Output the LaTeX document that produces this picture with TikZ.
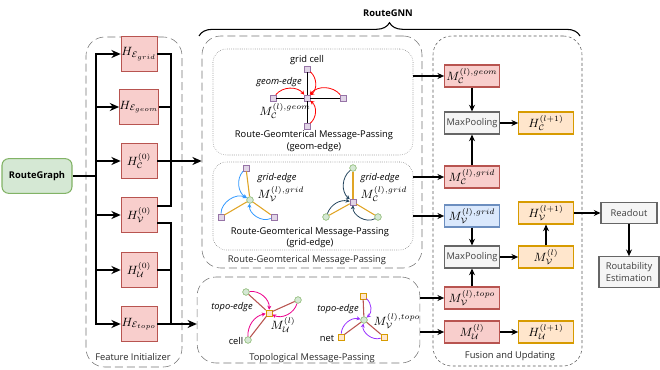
\documentclass[tikz,border=0pt]{standalone}
\usepackage{fontspec}
\setsansfont{Open Sans}
\usetikzlibrary{arrows.meta, positioning, calc, decorations.pathreplacing}

\definecolor{redfill}{HTML}{F8CECC}
\definecolor{redline}{HTML}{B85450}
\definecolor{grnfill}{HTML}{D5E8D4}
\definecolor{grnline}{HTML}{82B366}
\definecolor{gryfill}{HTML}{F5F5F5}
\definecolor{gryline}{HTML}{666666}
\definecolor{orgfill}{HTML}{FFE6CC}
\definecolor{orgline}{HTML}{D79B00}
\definecolor{blufill}{HTML}{DAE8FC}
\definecolor{bluline}{HTML}{6C8EBF}
\definecolor{prpfill}{HTML}{E1D5E7}
\definecolor{prpline}{HTML}{9673A6}
\definecolor{gridarr}{HTML}{3399FF}
\definecolor{darkarr}{HTML}{23445D}
\definecolor{topoarr}{HTML}{9933FF}
\definecolor{goldln}{HTML}{E0A526}

\newcommand{\lblfont}{\sffamily\fontsize{7}{8.5}\selectfont}

\begin{document}
\begin{tikzpicture}[
  x=0.75pt, y=-0.75pt,
  font=\lblfont,
  mathf/.style={font=\fontsize{9}{10}\selectfont},
  itlbl/.style={font=\lblfont\itshape},
  hbox/.style={rectangle, fill=redfill, draw=redline, minimum width=27pt, minimum height=26pt, inner sep=0pt, mathf},
  mbox/.style={rectangle, minimum width=41pt, minimum height=16.5pt, inner sep=0pt, line width=0.8pt, mathf},
  redbox/.style={mbox, fill=redfill, draw=redline},
  orgbox/.style={mbox, fill=orgfill, draw=orgline},
  blubox/.style={mbox, fill=blufill, draw=bluline},
  poolbox/.style={mbox, fill=gryfill, draw=gryline, text=black!75, font=\lblfont},
  grpbox/.style={draw=black!55, dash pattern=on 6pt off 3pt, rounded corners=14pt, inner sep=0pt},
  subbox/.style={draw=black!55, densely dotted, rounded corners=10pt, inner sep=0pt},
  fusebox/.style={draw=black!65, dash pattern=on 2.2pt off 1.8pt, rounded corners=14pt, inner sep=0pt},
  sq/.style={rectangle, minimum size=4.5pt, inner sep=0pt, fill=prpfill, draw=prpline},
  osq/.style={rectangle, minimum size=4.5pt, inner sep=0pt, fill=orgfill, draw=orgline},
  dot/.style={circle, minimum size=5pt, inner sep=0pt, fill=grnfill, draw=grnline},
  bus/.style={line width=1.5pt},
  busarr/.style={bus, -{Stealth[length=7pt, width=6pt]}},
  arr/.style={line width=0.8pt, -{Stealth[length=5pt, width=4.5pt]}},
  msg/.style={line width=0.6pt, -{Stealth[length=3pt, width=3pt]}},
  grplbl/.style={text=black!85}
]
\useasboundingbox (0,0) rectangle (660,370);

% containers
\node[grpbox, minimum width=72pt, minimum height=247.5pt] (init) at (134,202) {};
\node[grpbox, minimum width=165pt, minimum height=174pt] (geo) at (312,152) {};
\node[subbox, minimum width=150pt, minimum height=79.5pt] (geomin) at (313,102) {};
\node[subbox, minimum width=150pt, minimum height=66pt] (gridin) at (313,206) {};
\node[grpbox, minimum width=167pt, minimum height=64.5pt] (topo) at (308.5,320) {};
\node[fusebox, minimum width=111.75pt, minimum height=247.5pt] (fuse) at (507.5,201) {};

\node[grplbl] at (133,357) {Feature Initializer};
\node[grplbl] at (307,260) {Route-Geomterical Message-Passing};
\node[grplbl] at (312,358) {Topological Message-Passing};
\node[grplbl] at (510,356) {Fusion and Updating};

% RouteGNN brace
\coordinate (braceL) at (199,36);
\coordinate (braceR) at (580,36);
\draw[decorate, decoration={brace, amplitude=10pt}, line width=0.8pt] (braceL) -- (braceR);
\node[font=\lblfont\bfseries] (gnn) at (388,13) {RouteGNN};

% input and feature initializer
\node[rectangle, rounded corners=5pt, fill=grnfill, draw=grnline, line width=0.8pt, minimum width=52.5pt, minimum height=26pt, font=\lblfont\bfseries] (rg) at (37,176) {RouteGraph};

\node[hbox] (hegrid) at (139,54) {$H_{\mathcal{E}_{grid}}$};
\node[hbox] (hegeom) at (139,107) {$H_{\mathcal{E}_{geom}}$};
\node[hbox] (hc) at (139,161) {$H_{\mathcal{C}}^{(0)}$};
\node[hbox] (hv) at (139,215) {$H_{\mathcal{V}}^{(0)}$};
\node[hbox] (hu) at (139,270) {$H_{\mathcal{U}}^{(0)}$};
\node[hbox] (hetopo) at (139,324) {$H_{\mathcal{E}_{topo}}$};

\coordinate (split) at (96,176);
\draw[bus] (rg.east) -- (split);
\foreach \n in {hegrid,hegeom,hc,hv,hu,hetopo}
  \draw[busarr] (split) |- (\n.west);

\coordinate (joinU) at (171,161);
\coordinate (joinD) at (171,324);
\draw[bus] (hegrid.east) -| (joinU);
\draw[bus] (hegeom.east) -| (joinU);
\draw[bus] ([yshift=6.75pt]hv.east) -| (joinU);
\draw[busarr] (hc.east) -- (hc.east -| geo.west);
\draw[bus] ([yshift=-6pt]hv.east) -| (joinD);
\draw[bus] (hu.east) -| (joinD);
\draw[busarr] (hetopo.east) -- (hetopo.east -| topo.west);

% geom-edge
\node[sq] (gc) at (307,98) {};
\node[sq] (gt) at (307,69) {};
\node[sq] (gl) at (273,98) {};
\node[sq] (gr) at (343,98) {};
\node[sq] (gb) at (307,126) {};
\foreach \n in {gt,gl,gr,gb}
  \draw[line width=0.6pt] (\n) -- (gc);
\draw[msg, red] (gt) to[bend left=50] (gc);
\draw[msg, red] (gl) to[bend left=50] (gc);
\draw[msg, red] (gr) to[bend right=50] (gc);
\draw[msg, red] (gb) to[bend right=50] (gc);
\node at (307,60) {grid cell};
\node[itlbl] at (279,82) {geom-edge};
\node[mathf] at (285,111) {$M_{\mathcal{C}}^{(l),geom}$};
\node at (314,135) {Route-Geomterical Message-Passing};
\node at (314,147) {(geom-edge)};

% grid-edge (net side)
\node[dot] (vc) at (250,200) {};
\node[sq] (vt) at (246,168) {};
\node[sq] (vl) at (221,217) {};
\node[sq] (vr) at (274,217) {};
\foreach \n in {vt,vl,vr}
  \draw[goldln, line width=0.8pt] (\n) -- (vc);
\draw[msg, gridarr] (vt) to[bend right=50] (vc);
\draw[msg, gridarr] (vl) to[bend left=60] (vc);
\draw[msg, gridarr] (vr) to[bend left=60] (vc);
\node[itlbl, anchor=west] at (253,178) {grid-edge};
\node[mathf, anchor=west] at (253,194) {$M_{\mathcal{V}}^{(l),grid}$};

% grid-edge (cell side)
\node[sq] (cc) at (353,202) {};
\node[dot] (ct) at (353,168) {};
\node[dot] (cl) at (326,217) {};
\node[dot] (cr) at (378,217) {};
\foreach \n in {ct,cl,cr}
  \draw[goldln, line width=0.8pt] (\n) -- (cc);
\draw[msg, darkarr] (ct) to[bend right=50] (cc);
\draw[msg, darkarr] (cl) to[bend left=40] (cc);
\draw[msg, darkarr] (cr) to[bend left=60] (cc);
\node[itlbl, anchor=west] at (356,178) {grid-edge};
\node[mathf, anchor=west] at (356,194) {$M_{\mathcal{C}}^{(l),grid}$};
\node at (310,232) {Route-Geomterical Message-Passing};
\node at (310,243) {(grid-edge)};

% topo-edge (cell side)
\node[osq] (uc) at (269,313) {};
\node[dot] (ua) at (246,292) {};
\node[dot] (ub) at (298,300) {};
\node[dot] (ud) at (248,340) {};
\foreach \n in {ua,ub,ud}
  \draw[redline, line width=0.8pt] (\n) -- (uc);
\draw[msg, magenta] (ua) to[bend left=50] (uc);
\draw[msg, magenta] (ub) to[bend left=50] (uc);
\draw[msg, magenta] (ud) to[bend left=40] (uc);
\node[itlbl] at (232,307) {topo-edge};
\node[mathf, anchor=west] at (266,325) {$M_{\mathcal{U}}^{(l)}$};
\node at (236,341) {cell};

% topo-edge (net side)
\node[dot] (nc) at (364,320) {};
\node[osq] (nt) at (363,296) {};
\node[osq] (nl) at (341,337) {};
\node[osq] (nr) at (384,337) {};
\foreach \n in {nt,nl,nr}
  \draw[redline, line width=0.8pt] (\n) -- (nc);
\draw[msg, topoarr] (nt) to[bend left=50] (nc);
\draw[msg, topoarr] (nl) to[bend left=50] (nc);
\draw[msg, topoarr] (nr) to[bend left=60] (nc);
\node[itlbl] at (338,309) {topo-edge};
\node[mathf, anchor=west] at (369,321) {$M_{\mathcal{V}}^{(l),topo}$};
\node at (327,338) {net};

% fusion and updating
\node[redbox] (mcgeom) at (472,76) {$M_{\mathcal{C}}^{(l),geom}$};
\node[poolbox] (poolc) at (472,123) {MaxPooling};
\node[orgbox] (hcnext) at (546,123) {$H_{\mathcal{C}}^{(l+1)}$};
\node[redbox] (mcgrid) at (472,177) {$M_{\mathcal{C}}^{(l),grid}$};
\node[blubox] (mvgrid) at (472,216) {$M_{\mathcal{V}}^{(l),grid}$};
\node[orgbox] (hvnext) at (546,213) {$H_{\mathcal{V}}^{(l+1)}$};
\node[poolbox] (poolv) at (472,257) {MaxPooling};
\node[orgbox] (mv) at (546,257) {$M_{\mathcal{V}}^{(l)}$};
\node[redbox] (mvtopo) at (472,298) {$M_{\mathcal{V}}^{(l),topo}$};
\node[redbox] (mu) at (472,332) {$M_{\mathcal{U}}^{(l)}$};
\node[orgbox] (hunext) at (546,332) {$H_{\mathcal{U}}^{(l+1)}$};
\node[poolbox, minimum width=42pt, minimum height=16pt] (readout) at (629,213) {Readout};
\node[poolbox, minimum width=45pt, minimum height=23pt, align=center] (est) at (629,272) {Routability\\ Estimation};

\draw[arr] (geomin.east |- mcgeom) -- (mcgeom);
\draw[arr] (gridin.east |- mcgrid) -- (mcgrid);
\draw[arr] (gridin.east |- mvgrid) -- (mvgrid);
\draw[arr] (topo.east |- mvtopo) -- (mvtopo);
\draw[arr] (topo.east |- mu) -- (mu);
\draw[arr] (mcgeom) -- (poolc);
\draw[arr] (mcgrid) -- (poolc);
\draw[arr] (poolc) -- (hcnext);
\draw[arr] (mvgrid) -- (poolv);
\draw[arr] (mvtopo) -- (poolv);
\draw[arr] (poolv) -- (mv);
\draw[arr] (mv) -- (hvnext);
\draw[arr] (hvnext) -- (readout);
\draw[arr] (readout) -- (est);
\draw[arr] (mu) -- (hunext);

\end{tikzpicture}
\end{document}
